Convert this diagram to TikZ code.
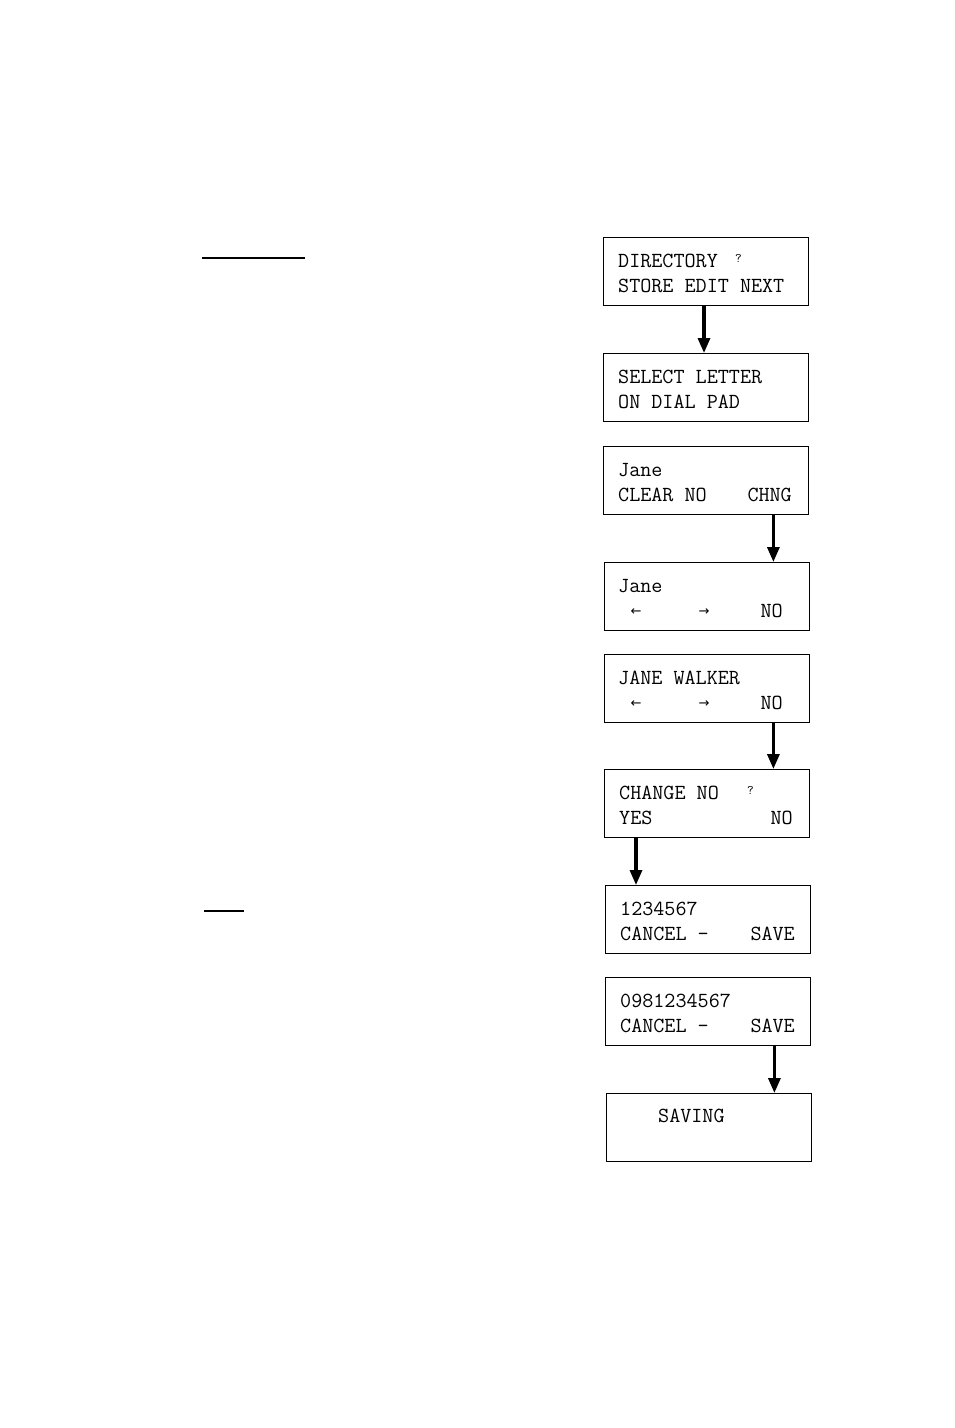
\documentclass[tikz,border=0pt]{standalone}
\usepackage{fontspec}
\newfontfamily\arrowfont{DejaVu Sans}
\usetikzlibrary{arrows.meta,calc}
\begin{document}
\begin{tikzpicture}[x=1pt,y=-1pt,
  lcd/.style={draw,line width=1.4pt,minimum width=205pt,minimum height=68pt,inner sep=0pt,anchor=north west},
  txt/.style={anchor=base west,inner sep=0pt,font=\ttfamily\fontsize{21.5}{24}\selectfont},
  rtxt/.style={anchor=base east,inner sep=0pt,font=\ttfamily\fontsize{21.5}{24}\selectfont},
  qm/.style={anchor=base west,inner sep=0pt,font=\ttfamily\fontsize{13}{14}\selectfont},
  arr/.style={anchor=base,inner sep=0pt,font=\arrowfont\fontsize{13}{14}\selectfont},
  flow/.style={line width=3.2pt,-{Triangle[length=15pt,width=12pt]}}]
\useasboundingbox (0,0) rectangle (954,1428);
% underlines
\coordinate (u1a) at (202,258); \coordinate (u1b) at (305,258);
\draw[line width=1.3pt] (u1a) -- (u1b);
\coordinate (u2a) at (204,911); \coordinate (u2b) at (244,911);
\draw[line width=1.3pt] (u2a) -- (u2b);
% boxes
\node[lcd] (b1) at (603,237) {};
\node[lcd] (b2) at (603,353) {};
\node[lcd] (b3) at (603,446) {};
\node[lcd] (b4) at (604,562) {};
\node[lcd] (b5) at (604,654) {};
\node[lcd] (b6) at (604,769) {};
\node[lcd] (b7) at (605,885) {};
\node[lcd] (b8) at (605,977) {};
\node[lcd] (b9) at (606,1093) {};
% texts
\node[txt] (t1a) at (618,267) {DIRECTORY};
\node[qm] (t1q) at (735,262) {?};
\node[txt] (t1b) at (618,292) {STORE EDIT NEXT};
\node[txt] (t2a) at (618,383) {SELECT LETTER};
\node[txt] (t2b) at (618,408) {ON DIAL PAD};
\node[txt] (t3a) at (618,476) {Jane};
\node[txt] (t3b) at (618,501) {CLEAR NO};
\node[rtxt] (t3c) at (792,501) {CHNG};
\node[txt] (t4a) at (618,592) {Jane};
\node[arr] (t4l) at (636,615) {←};
\node[arr] (t4r) at (704,615) {→};
\node[rtxt] (t4n) at (783,617) {NO};
\node[txt] (t5a) at (618,684) {JANE WALKER};
\node[arr] (t5l) at (636,707) {←};
\node[arr] (t5r) at (704,707) {→};
\node[rtxt] (t5n) at (783,709) {NO};
\node[txt] (t6a) at (619,799) {CHANGE NO};
\node[qm] (t6q) at (747,794) {?};
\node[txt] (t6b) at (619,824) {YES};
\node[rtxt] (t6n) at (793,824) {NO};
\node[txt] (t7a) at (620,915) {1234567};
\node[txt] (t7b) at (620,940) {CANCEL -};
\node[rtxt] (t7c) at (795,940) {SAVE};
\node[txt] (t8a) at (620,1007) {0981234567};
\node[txt] (t8b) at (620,1032) {CANCEL -};
\node[rtxt] (t8c) at (795,1032) {SAVE};
\node[txt] (t9a) at (658,1122) {SAVING};
% connectors
\draw[flow] ($(b1.south west)+(101,0)$) -- ($(b2.north west)+(101,0)$);
\draw[flow] ($(b3.south east)+(-36,0)$) -- ($(b4.north east)+(-37,0)$);
\draw[flow] ($(b5.south east)+(-37,0)$) -- ($(b6.north east)+(-37,0)$);
\draw[flow] ($(b6.south west)+(32,0)$) -- ($(b7.north west)+(31,0)$);
\draw[flow] ($(b8.south east)+(-37,0)$) -- ($(b9.north east)+(-38,0)$);
\end{tikzpicture}
\end{document}
